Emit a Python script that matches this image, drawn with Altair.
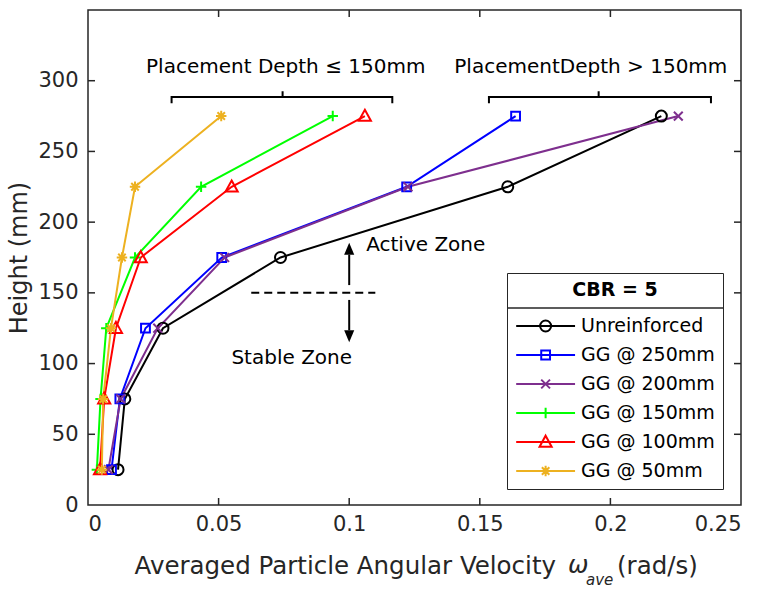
import altair as alt
import pandas as pd

# ---------------- data ----------------
heights = [25, 75, 125, 175, 225, 275]
series_names = ["Unreinforced", "GG @ 250mm", "GG @ 200mm", "GG @ 150mm", "GG @ 100mm", "GG @ 50mm"]
w_unreinforced = [0.0115, 0.0141, 0.0287, 0.0737, 0.1607, 0.2195]
w_gg250 = [0.0090, 0.0122, 0.0220, 0.0512, 0.1220, 0.1637]
w_gg200 = [0.0078, 0.0125, 0.0267, 0.0523, 0.1225, 0.2260]
w_gg150 = [0.0034, 0.0048, 0.0070, 0.0180, 0.0433, 0.0937]
w_gg100 = [0.0046, 0.0062, 0.0107, 0.0202, 0.0550, 0.1060]
w_gg50 = [0.0053, 0.0058, 0.0088, 0.0130, 0.0180, 0.0510]
series_colors = ["#000000", "#0000FF", "#7E2F8E", "#00FF00", "#FF0000", "#EDB120"]

x_ticks = [0.05, 0.1, 0.15, 0.2]
y_ticks = [50, 100, 150, 200, 250, 300]
x_labels = [0, 0.05, 0.1, 0.15, 0.2, 0.25]
y_labels = [0, 50, 100, 150, 200, 250, 300]

# annotations (data units)
brace_group = ["L"] * 7 + ["R"] * 7
brace_order = list(range(7)) * 2
brace_x = [0.032, 0.032, 0.0745, 0.0745, 0.0745, 0.1165, 0.1165,
           0.1535, 0.1535, 0.1955, 0.1955, 0.1955, 0.2385, 0.2385]
brace_y = [284, 288.5, 288.5, 292.5, 288.5, 288.5, 284] * 2
brace_text = ["Placement Depth \u2264 150mm", "PlacementDepth > 150mm"]
brace_text_x = [0.0757, 0.1925]
brace_text_y = [310, 310]
zone_line_x = [0.0625, 0.1100]
zone_line_y = [150, 150]
arrow_x = [0.1, 0.1]
arrow_y1 = [155.5, 123.5]
arrow_y2 = [177.0, 145.0]
arrow_tip_y = [185.5, 115.0]
arrow_dir = ["up", "down"]
zone_text = ["Active Zone", "Stable Zone"]
zone_text_x = [0.1065, 0.0780]
zone_text_y = [183.5, 104.0]

# ---------------- layout ----------------
W, H = 653, 495
FONT = "DejaVu Sans"
AXC = "#262626"


def tf(pts, s, cx):
    return " ".join(f"{x * s + cx:.3f},{y * s:.3f}" for x, y in pts)


def marker_path(kind, s=1.0, cx=0.0):
    if kind == "circle":
        r = 1.0 * s
        return f"M{cx - r:.3f},0A{r:.3f},{r:.3f} 0 1,0 {cx + r:.3f},0A{r:.3f},{r:.3f} 0 1,0 {cx - r:.3f},0Z"
    if kind == "square":
        p = [(-0.8, -0.8), (0.8, -0.8), (0.8, 0.8), (-0.8, 0.8)]
        return "M" + "L".join(tf([q], s, cx) for q in p) + "Z"
    if kind == "x":
        return (f"M{tf([(-0.8, -0.8)], s, cx)}L{tf([(0.8, 0.8)], s, cx)}"
                f"M{tf([(-0.8, 0.8)], s, cx)}L{tf([(0.8, -0.8)], s, cx)}")
    if kind == "plus":
        return (f"M{tf([(-0.95, 0)], s, cx)}L{tf([(0.95, 0)], s, cx)}"
                f"M{tf([(0, -0.95)], s, cx)}L{tf([(0, 0.95)], s, cx)}")
    if kind == "triangle":
        p = [(0, -1.15), (1.1, 0.85), (-1.1, 0.85)]
        return "M" + "L".join(tf([q], s, cx) for q in p) + "Z"
    if kind == "star":
        return (f"M{tf([(-0.95, 0)], s, cx)}L{tf([(0.95, 0)], s, cx)}"
                f"M{tf([(0, -0.95)], s, cx)}L{tf([(0, 0.95)], s, cx)}"
                f"M{tf([(-0.68, -0.68)], s, cx)}L{tf([(0.68, 0.68)], s, cx)}"
                f"M{tf([(-0.68, 0.68)], s, cx)}L{tf([(0.68, -0.68)], s, cx)}")


kinds = ["circle", "square", "x", "plus", "triangle", "star"]
plot_paths = [marker_path(k) for k in kinds]
legend_paths = ["M-1,0L5,0" + marker_path(k, 0.56, 2.0) for k in kinds]

rows = []
for name, vals in zip(series_names, [w_unreinforced, w_gg250, w_gg200, w_gg150, w_gg100, w_gg50]):
    for h, v in zip(heights, vals):
        rows.append({"series": name, "x": v, "y": h})
df = pd.DataFrame(rows)

xscale = alt.Scale(domain=[0, 0.25], nice=False, zero=False)
yscale = alt.Scale(domain=[0, 350], nice=False, zero=False)
x_axis = alt.Axis(values=x_labels, format="~g", title=None, grid=False, domain=False,
                  ticks=False, labelFont=FONT, labelFontSize=21, labelColor=AXC,
                  labelPadding=8)
y_axis = alt.Axis(values=y_labels, title="Height (mm)", grid=False, domain=False,
                  ticks=False, labelFont=FONT, labelFontSize=21, labelColor=AXC,
                  labelPadding=10, titleFont=FONT, titleFontSize=24,
                  titleFontWeight="normal", titleColor=AXC, titlePadding=6)


def X(field="x"):
    return alt.X(f"{field}:Q", scale=xscale, axis=x_axis)


def Y(field="y"):
    return alt.Y(f"{field}:Q", scale=yscale, axis=y_axis)


color_main = alt.Color("series:N", scale=alt.Scale(domain=series_names, range=series_colors), legend=None)
shape_main = alt.Shape("series:N", scale=alt.Scale(domain=series_names, range=plot_paths), legend=None)

lines = alt.Chart(df).mark_line(strokeWidth=2).encode(
    x=X(), y=Y(), color=color_main, detail="series:N")
points = alt.Chart(df).mark_point(filled=False, strokeWidth=2, size=121, opacity=1).encode(
    x=X(), y=Y(), color=color_main, shape=shape_main)

legend_layer = alt.Chart(df).transform_filter("datum.y < 0").mark_point(
    filled=False, strokeWidth=2, size=385, opacity=1).encode(
    x=X(), y=Y(),
    color=alt.Color("series:N", scale=alt.Scale(domain=series_names, range=series_colors),
                    legend=alt.Legend(title="CBR = 5")),
    shape=alt.Shape("series:N", scale=alt.Scale(domain=series_names, range=legend_paths),
                    legend=alt.Legend(title="CBR = 5")),
)

# inward ticks
xt = pd.DataFrame({"x": x_ticks})
yt = pd.DataFrame({"y": y_ticks})
tick_style = dict(color=AXC, strokeWidth=1.5)
tb = alt.Chart(xt).mark_rule(**tick_style).encode(x=X(), y=alt.value(H), y2=alt.value(H - 7))
tt = alt.Chart(xt).mark_rule(**tick_style).encode(x=X(), y=alt.value(0), y2=alt.value(7))
tl = alt.Chart(yt).mark_rule(**tick_style).encode(y=Y(), x=alt.value(0), x2=alt.value(7))
tr = alt.Chart(yt).mark_rule(**tick_style).encode(y=Y(), x=alt.value(W), x2=alt.value(W - 7))

# braces
bdf = pd.DataFrame({"g": brace_group, "o": brace_order, "x": brace_x, "y": brace_y})
braces = alt.Chart(bdf).mark_line(color="black", strokeWidth=2).encode(
    x=X(), y=Y(), detail="g:N", order="o:Q")
btdf = pd.DataFrame({"t": brace_text, "x": brace_text_x, "y": brace_text_y})
brace_texts = alt.Chart(btdf).mark_text(font=FONT, fontSize=20, color="black",
                                        baseline="middle", align="center").encode(
    x=X(), y=Y(), text="t:N")

# zone annotations
zl = pd.DataFrame({"x": zone_line_x, "y": zone_line_y})
zone_line = alt.Chart(zl).mark_line(color="black", strokeWidth=2, strokeDash=[8, 5]).encode(x=X(), y=Y())
adf = pd.DataFrame({"x": arrow_x, "y": arrow_y1, "y2": arrow_y2, "ty": arrow_tip_y, "d": arrow_dir})
shafts = alt.Chart(adf).mark_rule(color="black", strokeWidth=2).encode(
    x=X(), y=Y(), y2="y2:Q")
heads = alt.Chart(adf).mark_point(filled=True, color="black", size=576, opacity=1).encode(
    x=X(), y=Y("ty"),
    shape=alt.Shape("d:N", scale=alt.Scale(domain=["up", "down"],
                                           range=["M0,0L-0.42,1L0.42,1Z", "M0,0L-0.42,-1L0.42,-1Z"]),
                    legend=None))
active_txt = alt.Chart(pd.DataFrame({"t": zone_text[:1], "x": zone_text_x[:1], "y": zone_text_y[:1]})).mark_text(
    font=FONT, fontSize=20, color="black", align="left", baseline="middle").encode(
    x=X(), y=Y(), text="t:N")
stable_txt = alt.Chart(pd.DataFrame({"t": zone_text[1:], "x": zone_text_x[1:], "y": zone_text_y[1:]})).mark_text(
    font=FONT, fontSize=20, color="black", align="center", baseline="middle").encode(
    x=X(), y=Y(), text="t:N")

# x-axis title pieces (pixel placement relative to plot area)
xt_main = alt.Chart(pd.DataFrame({"t": ["Averaged Particle Angular Velocity"]})).mark_text(
    font=FONT, fontSize=24.5, color=AXC, align="right", baseline="middle").encode(
    x=alt.value(468), y=alt.value(557), text="t:N")
xt_omega = alt.Chart(pd.DataFrame({"t": ["\u03c9"]})).mark_text(
    font=FONT, fontSize=24.5, fontStyle="italic", color=AXC, align="left", baseline="middle").encode(
    x=alt.value(480), y=alt.value(556), text="t:N")
xt_sub = alt.Chart(pd.DataFrame({"t": ["ave"]})).mark_text(
    font=FONT, fontSize=15, fontStyle="italic", color=AXC, align="left", baseline="middle").encode(
    x=alt.value(498), y=alt.value(570), text="t:N")
xt_unit = alt.Chart(pd.DataFrame({"t": ["(rad/s)"]})).mark_text(
    font=FONT, fontSize=24.5, color=AXC, align="left", baseline="middle").encode(
    x=alt.value(529), y=alt.value(557), text="t:N")

# legend title separator
sep = alt.Chart(pd.DataFrame({"t": [0]})).mark_rule(color=AXC, strokeWidth=1.5).encode(
    x=alt.value(419), x2=alt.value(635), y=alt.value(298))

chart = alt.layer(
    lines, points, tb, tt, tl, tr, braces, brace_texts, zone_line, shafts, heads,
    active_txt, stable_txt, legend_layer, sep,
    xt_main, xt_omega, xt_sub, xt_unit,
).resolve_scale(color="independent", shape="independent").properties(
    width=W, height=H,
    padding={"left": 88, "top": 10, "right": 24, "bottom": 84},
    autosize=alt.AutoSizeParams(type="none"),
).configure_view(stroke=AXC, strokeWidth=1.5).configure_legend(
    orient="none", legendX=419, legendY=263,
    strokeColor=AXC, padding=8,
    titleFont=FONT, titleFontSize=19, titleFontWeight="bold", titleColor="black",
    titleAnchor="middle", titlePadding=15,
    labelFont=FONT, labelFontSize=19, labelColor="black",
    symbolSize=385, symbolStrokeWidth=2, labelOffset=44, rowPadding=8,
)

chart.save("out.html", embed_options={"renderer": "svg", "actions": False})
